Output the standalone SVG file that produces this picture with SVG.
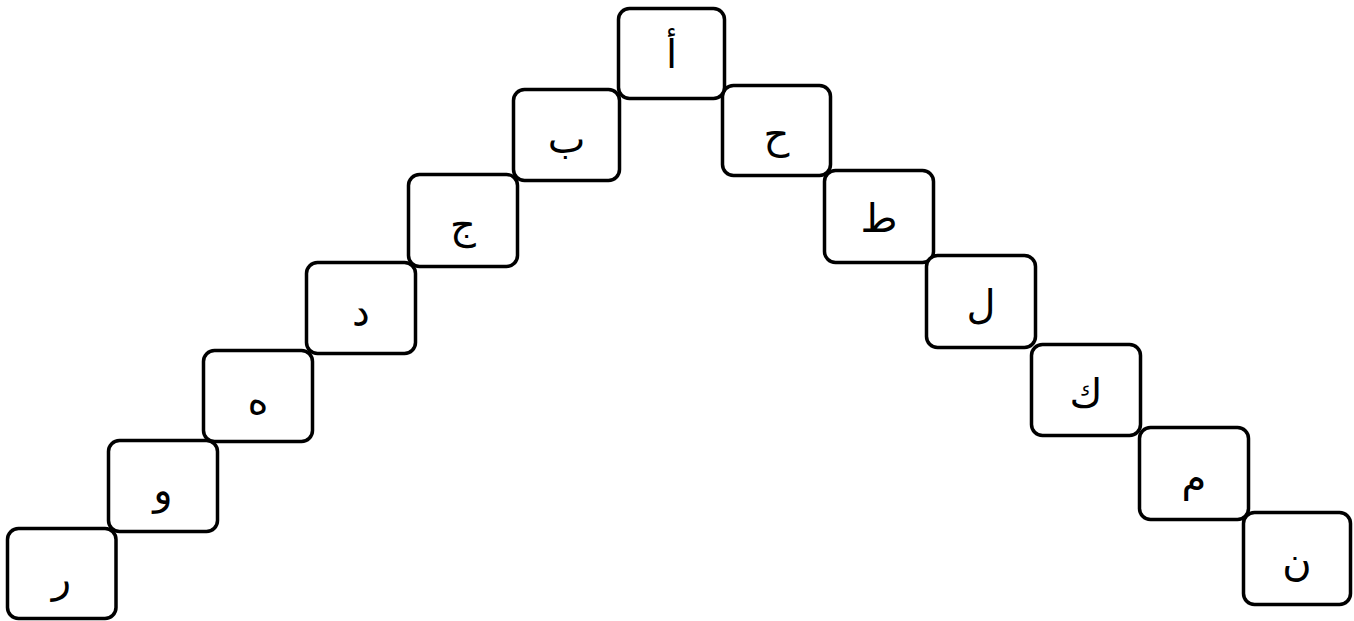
<svg xmlns="http://www.w3.org/2000/svg" width="1354" height="621" viewBox="0 0 1354 621">
<defs>
<style>
.b{fill:#fff;stroke:#000;stroke-width:3.5}
.t{font-family:"DejaVu Sans","Liberation Serif",serif;font-size:40px;text-anchor:middle;fill:#000}
</style>
</defs>
<rect width="1354" height="621" fill="#fff"/>
<g id="connectors"></g>
<g id="n-ra"><rect class="b" x="7.5" y="528.5" width="108.5" height="90" rx="11"/><text class="t" x="61.5" y="592">ر</text></g>
<g id="n-waw"><rect class="b" x="108.5" y="440.5" width="109" height="91" rx="11"/><text class="t" x="163" y="504">و</text></g>
<g id="n-ha"><rect class="b" x="203.5" y="350.5" width="109" height="91" rx="11"/><text class="t" x="258" y="414">ه</text></g>
<g id="n-dal"><rect class="b" x="306.5" y="262.5" width="109" height="91" rx="11"/><text class="t" x="361" y="326">د</text></g>
<g id="n-jim"><rect class="b" x="408.5" y="174.5" width="109" height="92" rx="11"/><text class="t" x="463" y="238">ج</text></g>
<g id="n-ba"><rect class="b" x="513.5" y="89.5" width="106" height="91" rx="11"/><text class="t" x="566.5" y="153">ب</text></g>
<g id="n-ha2"><rect class="b" x="722.5" y="85.5" width="108" height="90" rx="11"/><text class="t" x="776.5" y="148">ح</text></g>
<g id="n-alif"><rect class="b" x="618.5" y="8.5" width="106" height="90" rx="11"/><text class="t" x="671.5" y="68">أ</text></g>
<g id="n-ta"><rect class="b" x="824.5" y="170.5" width="109" height="92" rx="11"/><text class="t" x="879" y="232">ط</text></g>
<g id="n-lam"><rect class="b" x="926.5" y="255.5" width="109" height="92" rx="11"/><text class="t" x="981" y="318">ل</text></g>
<g id="n-kaf"><rect class="b" x="1031.5" y="344.5" width="109" height="91" rx="11"/><text class="t" x="1086" y="407">ك</text></g>
<g id="n-mim"><rect class="b" x="1139.5" y="427.5" width="109" height="92" rx="11"/><text class="t" x="1194" y="491">م</text></g>
<g id="n-nun"><rect class="b" x="1243.5" y="512.5" width="107" height="92" rx="11"/><text class="t" x="1297" y="576">ن</text></g>
</svg>
